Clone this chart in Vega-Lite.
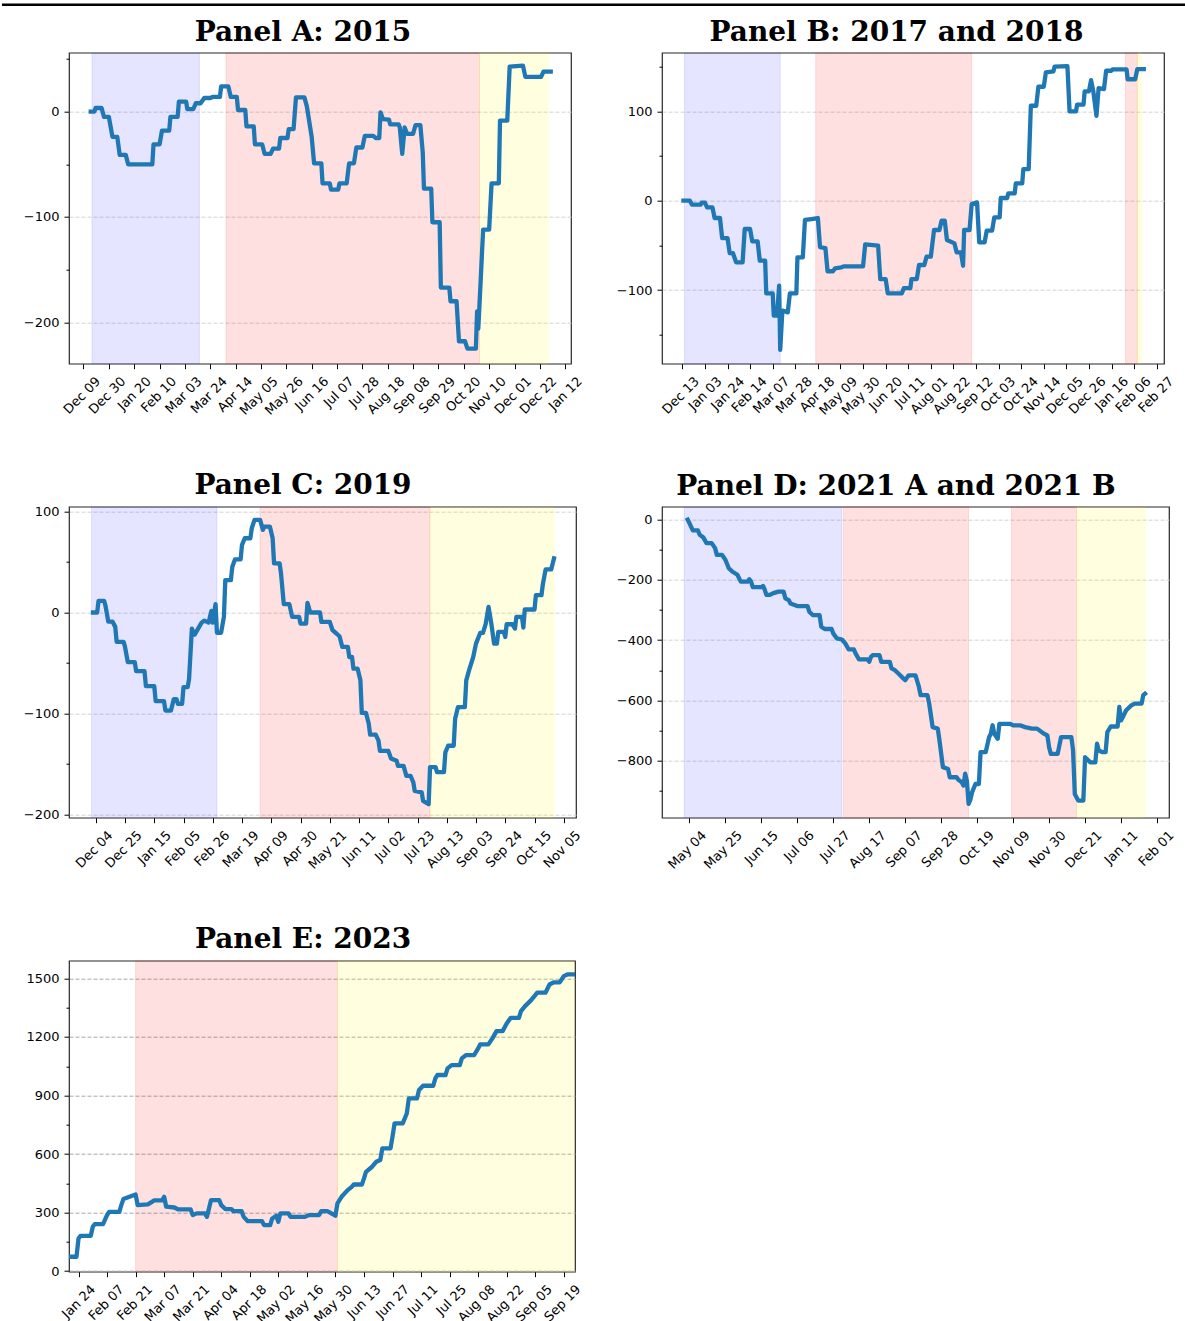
{
  "$schema": "https://vega.github.io/schema/vega-lite/v6.json",
  "background": "white",
  "padding": {"left": 0, "top": 2.7, "right": 0, "bottom": 0},
  "config": {
    "view": {"stroke": "#262626", "strokeWidth": 1.2},
    "axis": {"labelFont": "DejaVu Sans", "labelFontSize": 13, "labelColor": "#000000", "tickColor": "#000000", "tickWidth": 1, "domain": false, "gridDash": [4, 2], "gridWidth": 1, "labelOverlap": false},
    "axisX": {"labelAngle": -45, "labelAlign": "right", "labelBaseline": "top", "labelOffset": 10, "labelPadding": 6, "tickSize": 5, "grid": false, "labelFlush": false, "labelOverlap": false},
    "axisY": {"grid": true, "labelPadding": 5},
    "title": {"font": "DejaVu Serif", "fontSize": 28, "fontWeight": "bold", "color": "#000000", "anchor": "middle", "baseline": "alphabetic"}
  },
  "bounds": "flush",
  "spacing": 48,
  "vconcat": [
    {
      "width": 1185, "height": 1,
      "view": {"stroke": null},
      "data": {"values": [{}]},
      "mark": {"type": "rule", "color": "black", "strokeWidth": 2.6},
      "encoding": {"y": {"datum": 0, "type": "quantitative", "scale": {"domain": [0, 1]}, "axis": null}}
    },
    {
      "bounds": "flush",
      "spacing": 66,
      "hconcat": [
        {"width": 1, "height": 1, "view": {"stroke": null}, "data": {"values": []}, "mark": "point"},
        {
          "bounds": "flush",
          "columns": 2,
          "spacing": {"row": 143, "column": 86},
          "concat": [
            {
              "width": 502, "height": 311,
              "title": {"text": "Panel A: 2015", "dx": -17, "offset": 5.5},
              "encoding": {
                "x": {"field": "date", "type": "temporal",
                  "scale": {"type": "utc", "domain": [{"year": 2014, "month": 11, "date": 27, "utc": true}, {"year": 2016, "month": 1, "date": 16, "hours": 19, "utc": true}]},
                  "axis": {"title": null, "format": "%b %d", "labelOverlap": false, "values": [
                    {"year": 2014, "month": 12, "date": 9, "utc": true},
                    {"year": 2014, "month": 12, "date": 30, "utc": true},
                    {"year": 2015, "month": 1, "date": 20, "utc": true},
                    {"year": 2015, "month": 2, "date": 10, "utc": true},
                    {"year": 2015, "month": 3, "date": 3, "utc": true},
                    {"year": 2015, "month": 3, "date": 24, "utc": true},
                    {"year": 2015, "month": 4, "date": 14, "utc": true},
                    {"year": 2015, "month": 5, "date": 5, "utc": true},
                    {"year": 2015, "month": 5, "date": 26, "utc": true},
                    {"year": 2015, "month": 6, "date": 16, "utc": true},
                    {"year": 2015, "month": 7, "date": 7, "utc": true},
                    {"year": 2015, "month": 7, "date": 28, "utc": true},
                    {"year": 2015, "month": 8, "date": 18, "utc": true},
                    {"year": 2015, "month": 9, "date": 8, "utc": true},
                    {"year": 2015, "month": 9, "date": 29, "utc": true},
                    {"year": 2015, "month": 10, "date": 20, "utc": true},
                    {"year": 2015, "month": 11, "date": 10, "utc": true},
                    {"year": 2015, "month": 12, "date": 1, "utc": true},
                    {"year": 2015, "month": 12, "date": 22, "utc": true},
                    {"year": 2016, "month": 1, "date": 12, "utc": true}
                  ]}}
              },
              "layer": [
                {
                  "data": {"values": [
                    {"date": "2014-12-16", "end": "2015-03-15", "regime": "I"},
                    {"date": "2015-04-06", "end": "2015-11-02", "regime": "II"},
                    {"date": "2015-11-02", "end": "2015-12-29", "regime": "III"}
                  ]},
                  "mark": {"type": "rect", "fillOpacity": 0.12, "strokeOpacity": 0.12, "strokeWidth": 1, "clip": true},
                  "encoding": {
                    "x2": {"field": "end"},
                    "color": {"field": "regime", "type": "nominal", "scale": {"domain": ["I", "II", "III"], "range": ["#2b2bff", "#ff0000", "#ffff00"]}, "legend": null},
                    "stroke": {"field": "regime", "type": "nominal", "scale": {"domain": ["I", "II", "III"], "range": ["#2b2bff", "#ff0000", "#ffff00"]}, "legend": null}
                  }
                },
                {
                  "data": {"values": [
                    {"date": "2014-12-15", "value": 0}, {"date": "2014-12-18", "value": 0}, {"date": "2014-12-19", "value": 3.5}, {"date": "2014-12-24", "value": 3.5},
                    {"date": "2014-12-26", "value": -5}, {"date": "2014-12-30", "value": -5}, {"date": "2015-01-02", "value": -24}, {"date": "2015-01-06", "value": -24},
                    {"date": "2015-01-08", "value": -41}, {"date": "2015-01-13", "value": -41}, {"date": "2015-01-15", "value": -50}, {"date": "2015-02-04", "value": -50},
                    {"date": "2015-02-05", "value": -31}, {"date": "2015-02-10", "value": -31}, {"date": "2015-02-12", "value": -18}, {"date": "2015-02-18", "value": -18},
                    {"date": "2015-02-19", "value": -5}, {"date": "2015-02-25", "value": -5}, {"date": "2015-02-26", "value": 9.5}, {"date": "2015-03-04", "value": 9.5},
                    {"date": "2015-03-05", "value": 2.5}, {"date": "2015-03-10", "value": 2.5}, {"date": "2015-03-12", "value": 8}, {"date": "2015-03-16", "value": 8},
                    {"date": "2015-03-19", "value": 13}, {"date": "2015-03-24", "value": 13}, {"date": "2015-03-26", "value": 14}, {"date": "2015-04-01", "value": 14},
                    {"date": "2015-04-02", "value": 24}, {"date": "2015-04-08", "value": 24}, {"date": "2015-04-10", "value": 14}, {"date": "2015-04-15", "value": 14},
                    {"date": "2015-04-16", "value": 1.6}, {"date": "2015-04-22", "value": 1.6}, {"date": "2015-04-23", "value": -14}, {"date": "2015-04-29", "value": -14},
                    {"date": "2015-04-30", "value": -31}, {"date": "2015-05-06", "value": -31}, {"date": "2015-05-08", "value": -40}, {"date": "2015-05-13", "value": -40},
                    {"date": "2015-05-15", "value": -35}, {"date": "2015-05-20", "value": -35}, {"date": "2015-05-21", "value": -25}, {"date": "2015-05-27", "value": -25},
                    {"date": "2015-05-28", "value": -16.5}, {"date": "2015-06-01", "value": -16.5}, {"date": "2015-06-03", "value": 13.6}, {"date": "2015-06-10", "value": 13.6},
                    {"date": "2015-06-12", "value": 5}, {"date": "2015-06-16", "value": -24}, {"date": "2015-06-18", "value": -49}, {"date": "2015-06-24", "value": -49},
                    {"date": "2015-06-25", "value": -68}, {"date": "2015-07-01", "value": -68}, {"date": "2015-07-02", "value": -74}, {"date": "2015-07-08", "value": -74},
                    {"date": "2015-07-09", "value": -68}, {"date": "2015-07-15", "value": -68}, {"date": "2015-07-17", "value": -49}, {"date": "2015-07-21", "value": -49},
                    {"date": "2015-07-23", "value": -34}, {"date": "2015-07-28", "value": -34}, {"date": "2015-07-30", "value": -23}, {"date": "2015-08-06", "value": -23},
                    {"date": "2015-08-08", "value": -25}, {"date": "2015-08-11", "value": -25}, {"date": "2015-08-12", "value": -0.6}, {"date": "2015-08-14", "value": -7},
                    {"date": "2015-08-19", "value": -7.5}, {"date": "2015-08-20", "value": -12}, {"date": "2015-08-27", "value": -12}, {"date": "2015-08-28", "value": -15},
                    {"date": "2015-08-30", "value": -40}, {"date": "2015-09-01", "value": -15}, {"date": "2015-09-03", "value": -21}, {"date": "2015-09-08", "value": -21},
                    {"date": "2015-09-10", "value": -12.7}, {"date": "2015-09-14", "value": -12.7}, {"date": "2015-09-16", "value": -38.6}, {"date": "2015-09-17", "value": -73},
                    {"date": "2015-09-23", "value": -73}, {"date": "2015-09-24", "value": -105}, {"date": "2015-09-30", "value": -105}, {"date": "2015-10-01", "value": -167},
                    {"date": "2015-10-08", "value": -167}, {"date": "2015-10-09", "value": -180}, {"date": "2015-10-14", "value": -180}, {"date": "2015-10-16", "value": -218},
                    {"date": "2015-10-21", "value": -218}, {"date": "2015-10-23", "value": -225}, {"date": "2015-10-30", "value": -225}, {"date": "2015-10-31", "value": -189.6},
                    {"date": "2015-11-01", "value": -206}, {"date": "2015-11-03", "value": -160}, {"date": "2015-11-05", "value": -112}, {"date": "2015-11-10", "value": -112},
                    {"date": "2015-11-12", "value": -68}, {"date": "2015-11-18", "value": -68}, {"date": "2015-11-19", "value": -8.5}, {"date": "2015-11-25", "value": -8.5},
                    {"date": "2015-11-27", "value": 42.7}, {"date": "2015-12-08", "value": 43.7}, {"date": "2015-12-10", "value": 33}, {"date": "2015-12-23", "value": 33},
                    {"date": "2015-12-25", "value": 38}, {"date": "2015-12-31", "value": 38}
                  ]},
                  "mark": {"type": "line", "color": "#1f77b4", "strokeWidth": 4.3, "strokeJoin": "round", "strokeCap": "square", "clip": true},
                  "encoding": {
                    "y": {"field": "value", "type": "quantitative", "scale": {"domain": [-239.3, 56], "nice": false, "zero": false},
                      "axis": {"title": null, "format": "d", "labelOverlap": false, "values": [-200, -150, -100, -50, 0, 50],
                        "labelExpr": "datum.value % 100 === 0 ? datum.label : ''",
                        "tickSize": {"condition": {"test": "datum.value % 100 !== 0", "value": 3}, "value": 5},
                        "gridOpacity": {"condition": {"test": "datum.value % 100 !== 0", "value": 0}, "value": 1},
                        "gridColor": "#d4d4d4"}}
                  }
                }
              ]
            },
            {
              "width": 502, "height": 311,
              "title": {"text": "Panel B: 2017 and 2018", "dx": -16.5, "offset": 5.5},
              "encoding": {
                "x": {"field": "date", "type": "temporal",
                  "scale": {"type": "utc", "domain": [{"year": 2016, "month": 11, "date": 24, "hours": 2, "utc": true}, {"year": 2018, "month": 3, "date": 5, "hours": 19, "utc": true}]},
                  "axis": {"title": null, "format": "%b %d", "labelOverlap": false, "values": [
                    {"year": 2016, "month": 12, "date": 13, "utc": true},
                    {"year": 2017, "month": 1, "date": 3, "utc": true},
                    {"year": 2017, "month": 1, "date": 24, "utc": true},
                    {"year": 2017, "month": 2, "date": 14, "utc": true},
                    {"year": 2017, "month": 3, "date": 7, "utc": true},
                    {"year": 2017, "month": 3, "date": 28, "utc": true},
                    {"year": 2017, "month": 4, "date": 18, "utc": true},
                    {"year": 2017, "month": 5, "date": 9, "utc": true},
                    {"year": 2017, "month": 5, "date": 30, "utc": true},
                    {"year": 2017, "month": 6, "date": 20, "utc": true},
                    {"year": 2017, "month": 7, "date": 11, "utc": true},
                    {"year": 2017, "month": 8, "date": 1, "utc": true},
                    {"year": 2017, "month": 8, "date": 22, "utc": true},
                    {"year": 2017, "month": 9, "date": 12, "utc": true},
                    {"year": 2017, "month": 10, "date": 3, "utc": true},
                    {"year": 2017, "month": 10, "date": 24, "utc": true},
                    {"year": 2017, "month": 11, "date": 14, "utc": true},
                    {"year": 2017, "month": 12, "date": 5, "utc": true},
                    {"year": 2017, "month": 12, "date": 26, "utc": true},
                    {"year": 2018, "month": 1, "date": 16, "utc": true},
                    {"year": 2018, "month": 2, "date": 6, "utc": true},
                    {"year": 2018, "month": 2, "date": 27, "utc": true}
                  ]}}
              },
              "layer": [
                {
                  "data": {"values": [
                    {"date": "2016-12-15", "end": "2017-03-14", "regime": "I"},
                    {"date": "2017-04-16", "end": "2017-09-08", "regime": "II"},
                    {"date": "2018-01-29", "end": "2018-02-09", "regime": "II"},
                    {"date": "2018-02-09", "end": "2018-02-13", "regime": "III"}
                  ]},
                  "mark": {"type": "rect", "fillOpacity": 0.12, "strokeOpacity": 0.12, "strokeWidth": 1, "clip": true},
                  "encoding": {
                    "x2": {"field": "end"},
                    "color": {"field": "regime", "type": "nominal", "scale": {"domain": ["I", "II", "III"], "range": ["#2b2bff", "#ff0000", "#ffff00"]}, "legend": null},
                    "stroke": {"field": "regime", "type": "nominal", "scale": {"domain": ["I", "II", "III"], "range": ["#2b2bff", "#ff0000", "#ffff00"]}, "legend": null}
                  }
                },
                {
                  "data": {"values": [
                    {"date": "2016-12-14", "value": 0}, {"date": "2016-12-20", "value": 0}, {"date": "2016-12-22", "value": -4.5}, {"date": "2016-12-30", "value": -4.5},
                    {"date": "2016-12-31", "value": -2.2}, {"date": "2017-01-03", "value": -2.2}, {"date": "2017-01-05", "value": -7.5}, {"date": "2017-01-10", "value": -7.5},
                    {"date": "2017-01-12", "value": -19.4}, {"date": "2017-01-17", "value": -19.4}, {"date": "2017-01-19", "value": -41.8}, {"date": "2017-01-24", "value": -41.8},
                    {"date": "2017-01-26", "value": -58.6}, {"date": "2017-01-29", "value": -58.6}, {"date": "2017-02-01", "value": -69}, {"date": "2017-02-07", "value": -69},
                    {"date": "2017-02-09", "value": -31.7}, {"date": "2017-02-14", "value": -31.7}, {"date": "2017-02-16", "value": -45.5}, {"date": "2017-02-21", "value": -45.5},
                    {"date": "2017-02-23", "value": -67.2}, {"date": "2017-02-28", "value": -67.2}, {"date": "2017-03-01", "value": -103.7}, {"date": "2017-03-07", "value": -103.7},
                    {"date": "2017-03-08", "value": -128.7}, {"date": "2017-03-11", "value": -128.7}, {"date": "2017-03-13", "value": -95}, {"date": "2017-03-14", "value": -167},
                    {"date": "2017-03-16", "value": -123}, {"date": "2017-03-21", "value": -125}, {"date": "2017-03-23", "value": -103.7}, {"date": "2017-03-29", "value": -103.7},
                    {"date": "2017-03-30", "value": -63.4}, {"date": "2017-04-04", "value": -63.4}, {"date": "2017-04-06", "value": -21.6}, {"date": "2017-04-12", "value": -20.5},
                    {"date": "2017-04-18", "value": -19.4}, {"date": "2017-04-20", "value": -52}, {"date": "2017-04-25", "value": -53}, {"date": "2017-04-27", "value": -79},
                    {"date": "2017-05-02", "value": -79}, {"date": "2017-05-04", "value": -75.7}, {"date": "2017-05-10", "value": -74.6}, {"date": "2017-05-12", "value": -73.5},
                    {"date": "2017-05-30", "value": -73.5}, {"date": "2017-06-01", "value": -49}, {"date": "2017-06-13", "value": -50.4}, {"date": "2017-06-15", "value": -87.7},
                    {"date": "2017-06-20", "value": -87.7}, {"date": "2017-06-22", "value": -103.7}, {"date": "2017-07-05", "value": -103.7}, {"date": "2017-07-07", "value": -97.8},
                    {"date": "2017-07-13", "value": -97.8}, {"date": "2017-07-14", "value": -87.7}, {"date": "2017-07-19", "value": -87.7}, {"date": "2017-07-21", "value": -72},
                    {"date": "2017-07-26", "value": -72}, {"date": "2017-07-28", "value": -62.7}, {"date": "2017-08-01", "value": -62.7}, {"date": "2017-08-03", "value": -43},
                    {"date": "2017-08-04", "value": -32.8}, {"date": "2017-08-09", "value": -32.8}, {"date": "2017-08-11", "value": -22.4}, {"date": "2017-08-14", "value": -22.4},
                    {"date": "2017-08-16", "value": -44}, {"date": "2017-08-23", "value": -47.8}, {"date": "2017-08-25", "value": -57.8}, {"date": "2017-08-29", "value": -57.8},
                    {"date": "2017-08-31", "value": -72.8}, {"date": "2017-09-01", "value": -32.8}, {"date": "2017-09-06", "value": -32.8}, {"date": "2017-09-08", "value": -3.7},
                    {"date": "2017-09-13", "value": -1.9}, {"date": "2017-09-15", "value": -46.6}, {"date": "2017-09-20", "value": -46.6}, {"date": "2017-09-22", "value": -33.6},
                    {"date": "2017-09-27", "value": -33.6}, {"date": "2017-09-29", "value": -18.7}, {"date": "2017-10-04", "value": -18.7}, {"date": "2017-10-05", "value": 3},
                    {"date": "2017-10-11", "value": 3}, {"date": "2017-10-12", "value": 8.2}, {"date": "2017-10-18", "value": 8.2}, {"date": "2017-10-19", "value": 19.4},
                    {"date": "2017-10-25", "value": 19.4}, {"date": "2017-10-26", "value": 35.4}, {"date": "2017-10-31", "value": 35.4}, {"date": "2017-11-02", "value": 106.3},
                    {"date": "2017-11-07", "value": 106.3}, {"date": "2017-11-09", "value": 127.6}, {"date": "2017-11-14", "value": 127.6}, {"date": "2017-11-16", "value": 143.7},
                    {"date": "2017-11-23", "value": 144.8}, {"date": "2017-11-24", "value": 150}, {"date": "2017-12-06", "value": 150.7}, {"date": "2017-12-08", "value": 100},
                    {"date": "2017-12-14", "value": 100}, {"date": "2017-12-15", "value": 107.5}, {"date": "2017-12-21", "value": 107.5}, {"date": "2017-12-22", "value": 122.4},
                    {"date": "2017-12-26", "value": 122.4}, {"date": "2017-12-28", "value": 135}, {"date": "2017-12-30", "value": 123}, {"date": "2018-01-02", "value": 95},
                    {"date": "2018-01-04", "value": 126}, {"date": "2018-01-09", "value": 125}, {"date": "2018-01-11", "value": 145.5}, {"date": "2018-01-16", "value": 145.5},
                    {"date": "2018-01-17", "value": 147}, {"date": "2018-01-30", "value": 147}, {"date": "2018-01-31", "value": 136}, {"date": "2018-02-07", "value": 136},
                    {"date": "2018-02-09", "value": 147.4}, {"date": "2018-02-15", "value": 147.4}
                  ]},
                  "mark": {"type": "line", "color": "#1f77b4", "strokeWidth": 4.3, "strokeJoin": "round", "strokeCap": "square", "clip": true},
                  "encoding": {
                    "y": {"field": "value", "type": "quantitative", "scale": {"domain": [-182.5, 165.7], "nice": false, "zero": false},
                      "axis": {"title": null, "format": "d", "labelOverlap": false, "values": [-150, -100, -50, 0, 50, 100, 150],
                        "labelExpr": "datum.value % 100 === 0 ? datum.label : ''",
                        "tickSize": {"condition": {"test": "datum.value % 100 !== 0", "value": 3}, "value": 5},
                        "gridOpacity": {"condition": {"test": "datum.value % 100 !== 0", "value": 0}, "value": 1},
                        "gridColor": "#d4d4d4"}}
                  }
                }
              ]
            },
            {
              "width": 507, "height": 311,
              "title": {"text": "Panel C: 2019", "dx": -19.5, "offset": 5},
              "encoding": {
                "x": {"field": "date", "type": "temporal",
                  "scale": {"type": "utc", "domain": [{"year": 2018, "month": 11, "date": 14, "hours": 19, "utc": true}, {"year": 2019, "month": 11, "date": 13, "hours": 19, "utc": true}]},
                  "axis": {"title": null, "format": "%b %d", "labelOverlap": false, "values": [
                    {"year": 2018, "month": 12, "date": 4, "utc": true},
                    {"year": 2018, "month": 12, "date": 25, "utc": true},
                    {"year": 2019, "month": 1, "date": 15, "utc": true},
                    {"year": 2019, "month": 2, "date": 5, "utc": true},
                    {"year": 2019, "month": 2, "date": 26, "utc": true},
                    {"year": 2019, "month": 3, "date": 19, "utc": true},
                    {"year": 2019, "month": 4, "date": 9, "utc": true},
                    {"year": 2019, "month": 4, "date": 30, "utc": true},
                    {"year": 2019, "month": 5, "date": 21, "utc": true},
                    {"year": 2019, "month": 6, "date": 11, "utc": true},
                    {"year": 2019, "month": 7, "date": 2, "utc": true},
                    {"year": 2019, "month": 7, "date": 23, "utc": true},
                    {"year": 2019, "month": 8, "date": 13, "utc": true},
                    {"year": 2019, "month": 9, "date": 3, "utc": true},
                    {"year": 2019, "month": 9, "date": 24, "utc": true},
                    {"year": 2019, "month": 10, "date": 15, "utc": true},
                    {"year": 2019, "month": 11, "date": 5, "utc": true}
                  ]}}
              },
              "layer": [
                {
                  "data": {"values": [
                    {"date": "2018-12-01", "end": "2019-03-01", "regime": "I"},
                    {"date": "2019-04-01", "end": "2019-08-01", "regime": "II"},
                    {"date": "2019-08-01", "end": "2019-10-29", "regime": "III"}
                  ]},
                  "mark": {"type": "rect", "fillOpacity": 0.12, "strokeOpacity": 0.12, "strokeWidth": 1, "clip": true},
                  "encoding": {
                    "x2": {"field": "end"},
                    "color": {"field": "regime", "type": "nominal", "scale": {"domain": ["I", "II", "III"], "range": ["#2b2bff", "#ff0000", "#ffff00"]}, "legend": null},
                    "stroke": {"field": "regime", "type": "nominal", "scale": {"domain": ["I", "II", "III"], "range": ["#2b2bff", "#ff0000", "#ffff00"]}, "legend": null}
                  }
                },
                {
                  "data": {"values": [
                    {"date": "2018-12-02", "value": 0}, {"date": "2018-12-05", "value": 0}, {"date": "2018-12-06", "value": 11.6}, {"date": "2018-12-10", "value": 11.6},
                    {"date": "2018-12-11", "value": 6.6}, {"date": "2018-12-13", "value": -9}, {"date": "2018-12-16", "value": -9}, {"date": "2018-12-18", "value": -14.2},
                    {"date": "2018-12-19", "value": -29}, {"date": "2018-12-24", "value": -29}, {"date": "2018-12-25", "value": -34}, {"date": "2018-12-27", "value": -49},
                    {"date": "2019-01-01", "value": -49}, {"date": "2019-01-02", "value": -58}, {"date": "2019-01-08", "value": -58}, {"date": "2019-01-09", "value": -72.8},
                    {"date": "2019-01-15", "value": -72.8}, {"date": "2019-01-16", "value": -87.7}, {"date": "2019-01-22", "value": -87.7}, {"date": "2019-01-23", "value": -97},
                    {"date": "2019-01-27", "value": -97}, {"date": "2019-01-29", "value": -85.8}, {"date": "2019-01-31", "value": -85.8}, {"date": "2019-02-01", "value": -90.4},
                    {"date": "2019-02-04", "value": -90.4}, {"date": "2019-02-05", "value": -73.8}, {"date": "2019-02-08", "value": -73.8}, {"date": "2019-02-09", "value": -65.6},
                    {"date": "2019-02-11", "value": -15.9}, {"date": "2019-02-13", "value": -21.9}, {"date": "2019-02-18", "value": -10}, {"date": "2019-02-20", "value": -8},
                    {"date": "2019-02-23", "value": -10}, {"date": "2019-02-25", "value": 1.6}, {"date": "2019-02-26", "value": -10}, {"date": "2019-02-28", "value": 8.3},
                    {"date": "2019-03-01", "value": -20}, {"date": "2019-03-04", "value": -20}, {"date": "2019-03-06", "value": -4.3}, {"date": "2019-03-07", "value": 32},
                    {"date": "2019-03-11", "value": 32}, {"date": "2019-03-12", "value": 45}, {"date": "2019-03-14", "value": 52.6}, {"date": "2019-03-18", "value": 52.6},
                    {"date": "2019-03-19", "value": 67}, {"date": "2019-03-21", "value": 73.5}, {"date": "2019-03-25", "value": 73.5}, {"date": "2019-03-26", "value": 83.4},
                    {"date": "2019-03-28", "value": 91.7}, {"date": "2019-04-01", "value": 91.7}, {"date": "2019-04-03", "value": 81.8}, {"date": "2019-04-04", "value": 85},
                    {"date": "2019-04-08", "value": 85}, {"date": "2019-04-10", "value": 73.5}, {"date": "2019-04-11", "value": 48.7}, {"date": "2019-04-15", "value": 48.7},
                    {"date": "2019-04-16", "value": 38.7}, {"date": "2019-04-18", "value": 8.3}, {"date": "2019-04-22", "value": 8.3}, {"date": "2019-04-24", "value": -4.3},
                    {"date": "2019-04-29", "value": -4.3}, {"date": "2019-04-30", "value": -11}, {"date": "2019-05-04", "value": -11}, {"date": "2019-05-05", "value": 9.6},
                    {"date": "2019-05-07", "value": 0}, {"date": "2019-05-14", "value": 0}, {"date": "2019-05-15", "value": -9.3}, {"date": "2019-05-21", "value": -9.3},
                    {"date": "2019-05-23", "value": -17.5}, {"date": "2019-05-26", "value": -21}, {"date": "2019-05-28", "value": -23.5}, {"date": "2019-05-30", "value": -34},
                    {"date": "2019-06-03", "value": -34}, {"date": "2019-06-04", "value": -44}, {"date": "2019-06-06", "value": -44}, {"date": "2019-06-07", "value": -55.6},
                    {"date": "2019-06-10", "value": -55.6}, {"date": "2019-06-12", "value": -67}, {"date": "2019-06-13", "value": -99.3}, {"date": "2019-06-16", "value": -99.3},
                    {"date": "2019-06-18", "value": -110}, {"date": "2019-06-19", "value": -120.9}, {"date": "2019-06-23", "value": -120.9}, {"date": "2019-06-25", "value": -126.8},
                    {"date": "2019-06-26", "value": -136.8}, {"date": "2019-07-02", "value": -136.8}, {"date": "2019-07-04", "value": -144.4}, {"date": "2019-07-08", "value": -146.7},
                    {"date": "2019-07-09", "value": -151.7}, {"date": "2019-07-13", "value": -151.7}, {"date": "2019-07-15", "value": -161.6}, {"date": "2019-07-18", "value": -161.6},
                    {"date": "2019-07-20", "value": -168}, {"date": "2019-07-21", "value": -176.5}, {"date": "2019-07-26", "value": -178}, {"date": "2019-07-27", "value": -186.4},
                    {"date": "2019-07-31", "value": -189.7}, {"date": "2019-08-01", "value": -153}, {"date": "2019-08-05", "value": -153}, {"date": "2019-08-06", "value": -158},
                    {"date": "2019-08-11", "value": -158}, {"date": "2019-08-12", "value": -138.4}, {"date": "2019-08-14", "value": -131.8}, {"date": "2019-08-18", "value": -131.8},
                    {"date": "2019-08-19", "value": -105.3}, {"date": "2019-08-21", "value": -93.7}, {"date": "2019-08-26", "value": -93.7}, {"date": "2019-08-27", "value": -67.2},
                    {"date": "2019-08-29", "value": -57.3}, {"date": "2019-09-01", "value": -44}, {"date": "2019-09-03", "value": -30.8}, {"date": "2019-09-06", "value": -20.2},
                    {"date": "2019-09-08", "value": -20.2}, {"date": "2019-09-10", "value": -11}, {"date": "2019-09-12", "value": 5.6}, {"date": "2019-09-14", "value": -11},
                    {"date": "2019-09-16", "value": -30.8}, {"date": "2019-09-18", "value": -30.8}, {"date": "2019-09-19", "value": -19.2}, {"date": "2019-09-23", "value": -19.2},
                    {"date": "2019-09-24", "value": -24.2}, {"date": "2019-09-25", "value": -11.6}, {"date": "2019-09-29", "value": -11.6}, {"date": "2019-10-01", "value": -15.9},
                    {"date": "2019-10-02", "value": -4.3}, {"date": "2019-10-06", "value": -4.3}, {"date": "2019-10-07", "value": -14.9}, {"date": "2019-10-08", "value": 3},
                    {"date": "2019-10-15", "value": 3}, {"date": "2019-10-16", "value": 17.2}, {"date": "2019-10-20", "value": 17.2}, {"date": "2019-10-21", "value": 28.1},
                    {"date": "2019-10-23", "value": 42.7}, {"date": "2019-10-27", "value": 42.7}, {"date": "2019-10-29", "value": 53.6}
                  ]},
                  "mark": {"type": "line", "color": "#1f77b4", "strokeWidth": 4.3, "strokeJoin": "round", "strokeCap": "square", "clip": true},
                  "encoding": {
                    "y": {"field": "value", "type": "quantitative", "scale": {"domain": [-203, 104.7], "nice": false, "zero": false},
                      "axis": {"title": null, "format": "d", "labelOverlap": false, "values": [-200, -150, -100, -50, 0, 50, 100],
                        "labelExpr": "datum.value % 100 === 0 ? datum.label : ''",
                        "tickSize": {"condition": {"test": "datum.value % 100 !== 0", "value": 3}, "value": 5},
                        "gridOpacity": {"condition": {"test": "datum.value % 100 !== 0", "value": 0}, "value": 1},
                        "gridColor": "#d4d4d4"}}
                  }
                }
              ]
            },
            {
              "width": 507, "height": 311,
              "title": {"text": "Panel D: 2021 A and 2021 B", "dx": -19.5, "offset": 6},
              "encoding": {
                "x": {"field": "date", "type": "temporal",
                  "scale": {"type": "utc", "domain": [{"year": 2021, "month": 4, "date": 18, "utc": true}, {"year": 2022, "month": 2, "date": 8, "utc": true}]},
                  "axis": {"title": null, "format": "%b %d", "labelOverlap": false, "values": [
                    {"year": 2021, "month": 5, "date": 4, "utc": true},
                    {"year": 2021, "month": 5, "date": 25, "utc": true},
                    {"year": 2021, "month": 6, "date": 15, "utc": true},
                    {"year": 2021, "month": 7, "date": 6, "utc": true},
                    {"year": 2021, "month": 7, "date": 27, "utc": true},
                    {"year": 2021, "month": 8, "date": 17, "utc": true},
                    {"year": 2021, "month": 9, "date": 7, "utc": true},
                    {"year": 2021, "month": 9, "date": 28, "utc": true},
                    {"year": 2021, "month": 10, "date": 19, "utc": true},
                    {"year": 2021, "month": 11, "date": 9, "utc": true},
                    {"year": 2021, "month": 11, "date": 30, "utc": true},
                    {"year": 2021, "month": 12, "date": 21, "utc": true},
                    {"year": 2022, "month": 1, "date": 11, "utc": true},
                    {"year": 2022, "month": 2, "date": 1, "utc": true}
                  ]}}
              },
              "layer": [
                {
                  "data": {"values": [
                    {"date": "2021-05-01", "end": "2021-08-01", "regime": "I"},
                    {"date": "2021-08-02", "end": "2021-10-14", "regime": "II"},
                    {"date": "2021-11-08", "end": "2021-12-16", "regime": "II"},
                    {"date": "2021-12-16", "end": "2022-01-25", "regime": "III"}
                  ]},
                  "mark": {"type": "rect", "fillOpacity": 0.12, "strokeOpacity": 0.12, "strokeWidth": 1, "clip": true},
                  "encoding": {
                    "x2": {"field": "end"},
                    "color": {"field": "regime", "type": "nominal", "scale": {"domain": ["I", "II", "III"], "range": ["#2b2bff", "#ff0000", "#ffff00"]}, "legend": null},
                    "stroke": {"field": "regime", "type": "nominal", "scale": {"domain": ["I", "II", "III"], "range": ["#2b2bff", "#ff0000", "#ffff00"]}, "legend": null}
                  }
                },
                {
                  "data": {"values": [
                    {"date": "2021-05-03", "value": 0}, {"date": "2021-05-04", "value": -11}, {"date": "2021-05-06", "value": -35.6}, {"date": "2021-05-09", "value": -35.6},
                    {"date": "2021-05-10", "value": -50}, {"date": "2021-05-12", "value": -58}, {"date": "2021-05-14", "value": -77.8}, {"date": "2021-05-17", "value": -77.8},
                    {"date": "2021-05-19", "value": -94.4}, {"date": "2021-05-20", "value": -116.7}, {"date": "2021-05-23", "value": -116.7}, {"date": "2021-05-25", "value": -133},
                    {"date": "2021-05-27", "value": -161}, {"date": "2021-05-29", "value": -172}, {"date": "2021-06-01", "value": -183}, {"date": "2021-06-03", "value": -205.6},
                    {"date": "2021-06-07", "value": -205.6}, {"date": "2021-06-08", "value": -198}, {"date": "2021-06-09", "value": -205.6}, {"date": "2021-06-10", "value": -224},
                    {"date": "2021-06-15", "value": -224}, {"date": "2021-06-16", "value": -220}, {"date": "2021-06-17", "value": -233}, {"date": "2021-06-18", "value": -250},
                    {"date": "2021-06-20", "value": -250}, {"date": "2021-06-22", "value": -244}, {"date": "2021-06-25", "value": -239}, {"date": "2021-06-28", "value": -239},
                    {"date": "2021-06-29", "value": -261}, {"date": "2021-07-01", "value": -267}, {"date": "2021-07-02", "value": -278}, {"date": "2021-07-06", "value": -287},
                    {"date": "2021-07-12", "value": -287}, {"date": "2021-07-13", "value": -305.6}, {"date": "2021-07-15", "value": -316.7}, {"date": "2021-07-19", "value": -316.7},
                    {"date": "2021-07-20", "value": -355.6}, {"date": "2021-07-22", "value": -363}, {"date": "2021-07-26", "value": -363}, {"date": "2021-07-27", "value": -377.8},
                    {"date": "2021-07-29", "value": -394}, {"date": "2021-08-01", "value": -398}, {"date": "2021-08-03", "value": -411}, {"date": "2021-08-05", "value": -431},
                    {"date": "2021-08-08", "value": -431}, {"date": "2021-08-09", "value": -444}, {"date": "2021-08-11", "value": -464}, {"date": "2021-08-16", "value": -464},
                    {"date": "2021-08-17", "value": -472}, {"date": "2021-08-18", "value": -455.6}, {"date": "2021-08-19", "value": -450}, {"date": "2021-08-23", "value": -450},
                    {"date": "2021-08-24", "value": -472}, {"date": "2021-08-29", "value": -472}, {"date": "2021-08-30", "value": -494}, {"date": "2021-09-01", "value": -500},
                    {"date": "2021-09-03", "value": -511}, {"date": "2021-09-06", "value": -528}, {"date": "2021-09-07", "value": -533}, {"date": "2021-09-09", "value": -517},
                    {"date": "2021-09-13", "value": -517}, {"date": "2021-09-15", "value": -555.6}, {"date": "2021-09-16", "value": -583}, {"date": "2021-09-20", "value": -583},
                    {"date": "2021-09-21", "value": -611}, {"date": "2021-09-23", "value": -689}, {"date": "2021-09-26", "value": -694}, {"date": "2021-09-27", "value": -733},
                    {"date": "2021-09-29", "value": -822}, {"date": "2021-10-02", "value": -828}, {"date": "2021-10-03", "value": -855.6}, {"date": "2021-10-07", "value": -855.6},
                    {"date": "2021-10-08", "value": -864}, {"date": "2021-10-10", "value": -872}, {"date": "2021-10-11", "value": -883}, {"date": "2021-10-12", "value": -844},
                    {"date": "2021-10-13", "value": -867}, {"date": "2021-10-14", "value": -944}, {"date": "2021-10-15", "value": -931}, {"date": "2021-10-16", "value": -906},
                    {"date": "2021-10-18", "value": -878}, {"date": "2021-10-20", "value": -878}, {"date": "2021-10-21", "value": -772}, {"date": "2021-10-24", "value": -772},
                    {"date": "2021-10-26", "value": -722}, {"date": "2021-10-27", "value": -711}, {"date": "2021-10-28", "value": -683}, {"date": "2021-10-29", "value": -711},
                    {"date": "2021-10-31", "value": -728}, {"date": "2021-11-01", "value": -678}, {"date": "2021-11-07", "value": -678}, {"date": "2021-11-09", "value": -683},
                    {"date": "2021-11-13", "value": -683}, {"date": "2021-11-16", "value": -689}, {"date": "2021-11-20", "value": -694}, {"date": "2021-11-23", "value": -694},
                    {"date": "2021-11-27", "value": -711}, {"date": "2021-11-29", "value": -717}, {"date": "2021-11-30", "value": -756}, {"date": "2021-12-01", "value": -778},
                    {"date": "2021-12-05", "value": -778}, {"date": "2021-12-07", "value": -722}, {"date": "2021-12-13", "value": -722}, {"date": "2021-12-14", "value": -767},
                    {"date": "2021-12-15", "value": -911}, {"date": "2021-12-17", "value": -933}, {"date": "2021-12-20", "value": -933}, {"date": "2021-12-21", "value": -789},
                    {"date": "2021-12-23", "value": -800}, {"date": "2021-12-24", "value": -806}, {"date": "2021-12-27", "value": -806}, {"date": "2021-12-28", "value": -744},
                    {"date": "2021-12-29", "value": -767}, {"date": "2021-12-31", "value": -772}, {"date": "2022-01-02", "value": -772}, {"date": "2022-01-03", "value": -706},
                    {"date": "2022-01-05", "value": -687}, {"date": "2022-01-09", "value": -687}, {"date": "2022-01-10", "value": -622}, {"date": "2022-01-11", "value": -667},
                    {"date": "2022-01-12", "value": -656}, {"date": "2022-01-14", "value": -633}, {"date": "2022-01-17", "value": -617}, {"date": "2022-01-19", "value": -611},
                    {"date": "2022-01-23", "value": -611}, {"date": "2022-01-24", "value": -583}, {"date": "2022-01-25", "value": -578}
                  ]},
                  "mark": {"type": "line", "color": "#1f77b4", "strokeWidth": 4.3, "strokeJoin": "round", "strokeCap": "square", "clip": true},
                  "encoding": {
                    "y": {"field": "value", "type": "quantitative", "scale": {"domain": [-990, 43.3], "nice": false, "zero": false},
                      "axis": {"title": null, "format": "d", "labelOverlap": false, "values": [-900, -800, -700, -600, -500, -400, -300, -200, -100, 0],
                        "labelExpr": "datum.value % 200 === 0 ? datum.label : ''",
                        "tickSize": {"condition": {"test": "datum.value % 200 !== 0", "value": 3}, "value": 5},
                        "gridOpacity": {"condition": {"test": "datum.value % 200 !== 0", "value": 0}, "value": 1},
                        "gridColor": "#d4d4d4"}}
                  }
                }
              ]
            },
            {
              "width": 506, "height": 311,
              "title": {"text": "Panel E: 2023", "dx": -19, "offset": 6.5},
              "encoding": {
                "x": {"field": "date", "type": "temporal",
                  "scale": {"type": "utc", "domain": [{"year": 2023, "month": 1, "date": 19, "hours": 8, "utc": true}, {"year": 2023, "month": 9, "date": 24, "hours": 12, "utc": true}]},
                  "axis": {"title": null, "format": "%b %d", "labelOverlap": false, "values": [
                    {"year": 2023, "month": 1, "date": 24, "utc": true},
                    {"year": 2023, "month": 2, "date": 7, "utc": true},
                    {"year": 2023, "month": 2, "date": 21, "utc": true},
                    {"year": 2023, "month": 3, "date": 7, "utc": true},
                    {"year": 2023, "month": 3, "date": 21, "utc": true},
                    {"year": 2023, "month": 4, "date": 4, "utc": true},
                    {"year": 2023, "month": 4, "date": 18, "utc": true},
                    {"year": 2023, "month": 5, "date": 2, "utc": true},
                    {"year": 2023, "month": 5, "date": 16, "utc": true},
                    {"year": 2023, "month": 5, "date": 30, "utc": true},
                    {"year": 2023, "month": 6, "date": 13, "utc": true},
                    {"year": 2023, "month": 6, "date": 27, "utc": true},
                    {"year": 2023, "month": 7, "date": 11, "utc": true},
                    {"year": 2023, "month": 7, "date": 25, "utc": true},
                    {"year": 2023, "month": 8, "date": 8, "utc": true},
                    {"year": 2023, "month": 8, "date": 22, "utc": true},
                    {"year": 2023, "month": 9, "date": 5, "utc": true},
                    {"year": 2023, "month": 9, "date": 19, "utc": true}
                  ]}}
              },
              "layer": [
                {
                  "data": {"values": [
                    {"date": "2023-02-21", "end": "2023-05-31", "regime": "II"},
                    {"date": "2023-05-31", "end": "2023-09-26", "regime": "III"}
                  ]},
                  "mark": {"type": "rect", "fillOpacity": 0.12, "strokeOpacity": 0.12, "strokeWidth": 1, "clip": true},
                  "encoding": {
                    "x2": {"field": "end"},
                    "color": {"field": "regime", "type": "nominal", "scale": {"domain": ["I", "II", "III"], "range": ["#2b2bff", "#ff0000", "#ffff00"]}, "legend": null},
                    "stroke": {"field": "regime", "type": "nominal", "scale": {"domain": ["I", "II", "III"], "range": ["#2b2bff", "#ff0000", "#ffff00"]}, "legend": null}
                  }
                },
                {
                  "data": {"values": [
                    {"date": "2023-01-19", "value": 73.5}, {"date": "2023-01-23", "value": 73.5}, {"date": "2023-01-24", "value": 167}, {"date": "2023-01-25", "value": 181},
                    {"date": "2023-01-30", "value": 181}, {"date": "2023-01-31", "value": 227}, {"date": "2023-02-01", "value": 241}, {"date": "2023-02-05", "value": 241},
                    {"date": "2023-02-07", "value": 287}, {"date": "2023-02-08", "value": 304}, {"date": "2023-02-13", "value": 304}, {"date": "2023-02-14", "value": 338},
                    {"date": "2023-02-15", "value": 369}, {"date": "2023-02-18", "value": 381}, {"date": "2023-02-21", "value": 393}, {"date": "2023-02-22", "value": 338},
                    {"date": "2023-02-27", "value": 342}, {"date": "2023-03-01", "value": 355}, {"date": "2023-03-02", "value": 362}, {"date": "2023-03-06", "value": 362},
                    {"date": "2023-03-07", "value": 381}, {"date": "2023-03-08", "value": 330}, {"date": "2023-03-12", "value": 326}, {"date": "2023-03-14", "value": 316},
                    {"date": "2023-03-20", "value": 316}, {"date": "2023-03-21", "value": 287}, {"date": "2023-03-23", "value": 296}, {"date": "2023-03-27", "value": 296},
                    {"date": "2023-03-28", "value": 278}, {"date": "2023-03-30", "value": 364}, {"date": "2023-04-03", "value": 364}, {"date": "2023-04-04", "value": 338},
                    {"date": "2023-04-06", "value": 318}, {"date": "2023-04-09", "value": 318}, {"date": "2023-04-10", "value": 307}, {"date": "2023-04-14", "value": 307},
                    {"date": "2023-04-15", "value": 278}, {"date": "2023-04-17", "value": 256}, {"date": "2023-04-24", "value": 256}, {"date": "2023-04-25", "value": 236},
                    {"date": "2023-04-28", "value": 236}, {"date": "2023-04-29", "value": 270}, {"date": "2023-05-01", "value": 284}, {"date": "2023-05-02", "value": 253},
                    {"date": "2023-05-03", "value": 296}, {"date": "2023-05-07", "value": 296}, {"date": "2023-05-08", "value": 278}, {"date": "2023-05-15", "value": 278},
                    {"date": "2023-05-17", "value": 287}, {"date": "2023-05-22", "value": 287}, {"date": "2023-05-23", "value": 307}, {"date": "2023-05-26", "value": 307},
                    {"date": "2023-05-28", "value": 296}, {"date": "2023-05-30", "value": 284}, {"date": "2023-05-31", "value": 347}, {"date": "2023-06-02", "value": 381},
                    {"date": "2023-06-05", "value": 415}, {"date": "2023-06-07", "value": 432}, {"date": "2023-06-08", "value": 444}, {"date": "2023-06-12", "value": 444},
                    {"date": "2023-06-13", "value": 475}, {"date": "2023-06-14", "value": 509}, {"date": "2023-06-17", "value": 535}, {"date": "2023-06-19", "value": 560},
                    {"date": "2023-06-21", "value": 569}, {"date": "2023-06-22", "value": 629}, {"date": "2023-06-26", "value": 629}, {"date": "2023-06-27", "value": 689},
                    {"date": "2023-06-28", "value": 757}, {"date": "2023-07-02", "value": 757}, {"date": "2023-07-04", "value": 808}, {"date": "2023-07-05", "value": 885},
                    {"date": "2023-07-09", "value": 885}, {"date": "2023-07-10", "value": 928}, {"date": "2023-07-12", "value": 950}, {"date": "2023-07-17", "value": 950},
                    {"date": "2023-07-18", "value": 988}, {"date": "2023-07-19", "value": 1005}, {"date": "2023-07-23", "value": 1005}, {"date": "2023-07-24", "value": 1039},
                    {"date": "2023-07-26", "value": 1056}, {"date": "2023-07-30", "value": 1056}, {"date": "2023-07-31", "value": 1090}, {"date": "2023-08-02", "value": 1107},
                    {"date": "2023-08-06", "value": 1107}, {"date": "2023-08-08", "value": 1141}, {"date": "2023-08-09", "value": 1162}, {"date": "2023-08-13", "value": 1162},
                    {"date": "2023-08-15", "value": 1193}, {"date": "2023-08-17", "value": 1230}, {"date": "2023-08-20", "value": 1230}, {"date": "2023-08-22", "value": 1269},
                    {"date": "2023-08-24", "value": 1298}, {"date": "2023-08-28", "value": 1298}, {"date": "2023-08-29", "value": 1333}, {"date": "2023-08-31", "value": 1358},
                    {"date": "2023-09-03", "value": 1389}, {"date": "2023-09-06", "value": 1427}, {"date": "2023-09-10", "value": 1427}, {"date": "2023-09-12", "value": 1469},
                    {"date": "2023-09-14", "value": 1480}, {"date": "2023-09-17", "value": 1480}, {"date": "2023-09-19", "value": 1512}, {"date": "2023-09-21", "value": 1521},
                    {"date": "2023-09-25", "value": 1521}
                  ]},
                  "mark": {"type": "line", "color": "#1f77b4", "strokeWidth": 4.3, "strokeJoin": "round", "strokeCap": "square", "clip": true},
                  "encoding": {
                    "y": {"field": "value", "type": "quantitative", "scale": {"domain": [-3, 1591], "nice": false, "zero": false},
                      "axis": {"title": null, "format": "d", "labelOverlap": false, "values": [0, 150, 300, 450, 600, 750, 900, 1050, 1200, 1350, 1500],
                        "labelExpr": "datum.value % 300 === 0 ? datum.label : ''",
                        "tickSize": {"condition": {"test": "datum.value % 300 !== 0", "value": 3}, "value": 5},
                        "gridOpacity": {"condition": {"test": "datum.value % 300 !== 0", "value": 0}, "value": 1},
                        "gridColor": "#a8a8a8"}}
                  }
                }
              ]
            }
          ]
        }
      ]
    }
  ]
}
